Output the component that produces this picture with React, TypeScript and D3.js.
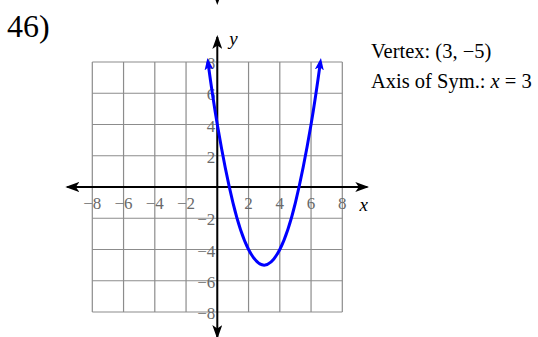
import React from "react";
import * as d3 from "d3";

const problemLabel = "46)";
const gridValues = [-8, -6, -4, -2, 0, 2, 4, 6, 8];
const xTicks = [-8, -6, -4, -2, 2, 4, 6, 8];
const yTicks = [8, 6, 4, 2, -2, -4, -6, -8];
const curveX = [-0.6, 0, 1, 2, 3, 4, 5, 6, 6.6];
const curveY = [8, 4, -1, -4, -5, -4, -1, 4, 8];
const vertexText = ["Vertex: ", "(3, −5)"];
const axisText = ["Axis of Sym.: ", "x", " = 3"];

const W = 538;
const H = 337;

export default function App() {
  const x = d3.scaleLinear().domain([-8, 8]).range([92.3, 342.3]);
  const y = d3.scaleLinear().domain([-8, 8]).range([312, 62]);
  const axisExt = 9.6;
  const fmt = (v: number) => (v < 0 ? "\u2212" + Math.abs(v) : String(v));
  const line = d3
    .line<number>()
    .x((_, i) => x(curveX[i]))
    .y((d) => y(d))
    .curve(d3.curveNatural);
  const serif = "'Liberation Serif', 'Times New Roman', serif";
  const labelColor = "#6a6a6a";
  return (
    <svg
      width={W}
      height={H}
      style={{ position: "absolute", left: 0, top: 0, background: "#fff" }}
      fontFamily={serif}
    >
      <defs>
        <marker
          id="axArrow"
          markerUnits="userSpaceOnUse"
          viewBox="0 0 14 10"
          markerWidth={14}
          markerHeight={10}
          refX={12}
          refY={5}
          orient="auto-start-reverse"
        >
          <path d="M0,0 L14,5 L0,10 L3.5,5 Z" fill="#000" />
        </marker>
        <marker
          id="curveArrow"
          markerUnits="userSpaceOnUse"
          viewBox="0 0 12 9"
          markerWidth={12}
          markerHeight={9}
          refX={8}
          refY={4.5}
          orient="auto-start-reverse"
        >
          <path d="M0,0 L12,4.5 L0,9 L3,4.5 Z" fill="#0000ff" />
        </marker>
      </defs>
      <text x={7} y={37} fontSize={32} fill="#000">
        {problemLabel}
      </text>
      {/* stray arrow from previous problem */}
      <path
        d={`M${x(0) - 4},-6 L${x(0)},5 L${x(0) + 4},-6 L${x(0)},-3 Z`}
        fill="#000"
      />
      {/* grid */}
      <g stroke="#8c8c8c" strokeWidth={1.2}>
        {gridValues.map((v) => (
          <line key={"gx" + v} x1={x(v)} x2={x(v)} y1={y(8)} y2={y(-8)} />
        ))}
        {gridValues.map((v) => (
          <line key={"gy" + v} x1={x(-8)} x2={x(8)} y1={y(v)} y2={y(v)} />
        ))}
      </g>
      {/* tick labels */}
      <g fontSize={17} fill={labelColor}>
        {xTicks.map((v) => (
          <text
            key={"xt" + v}
            x={v < 0 ? x(v) + 9 : x(v)}
            y={y(0) + 21.5}
            textAnchor={v < 0 ? "end" : "middle"}
          >
            {fmt(v)}
          </text>
        ))}
        {yTicks.map((v) => (
          <text
            key={"yt" + v}
            x={x(0) - 2}
            y={y(v) + 7}
            textAnchor="end"
          >
            {fmt(v)}
          </text>
        ))}
      </g>
      {/* axes */}
      <line
        x1={x(-axisExt)}
        x2={x(axisExt)}
        y1={y(0)}
        y2={y(0)}
        stroke="#000"
        strokeWidth={2}
        markerStart="url(#axArrow)"
        markerEnd="url(#axArrow)"
      />
      <line
        x1={x(0)}
        x2={x(0)}
        y1={y(-axisExt)}
        y2={y(axisExt)}
        stroke="#000"
        strokeWidth={2}
        markerStart="url(#axArrow)"
        markerEnd="url(#axArrow)"
      />
      <text x={x(9.1)} y={y(0) + 24} fontSize={19} fontStyle="italic">
        x
      </text>
      <text x={x(0) + 12} y={y(9.1)} fontSize={19} fontStyle="italic">
        y
      </text>
      {/* curve */}
      <path
        d={line(curveY) || ""}
        fill="none"
        stroke="#0000ff"
        strokeWidth={3}
        markerStart="url(#curveArrow)"
        markerEnd="url(#curveArrow)"
      />
      {/* info */}
      <text x={371} y={58} fontSize={20.5} fill="#000">
        {vertexText[0]}
        <tspan>{vertexText[1]}</tspan>
      </text>
      <text x={371} y={88} fontSize={20.5} fill="#000">
        {axisText[0]}
        <tspan fontStyle="italic">{axisText[1]}</tspan>
        {axisText[2]}
      </text>
    </svg>
  );
}
